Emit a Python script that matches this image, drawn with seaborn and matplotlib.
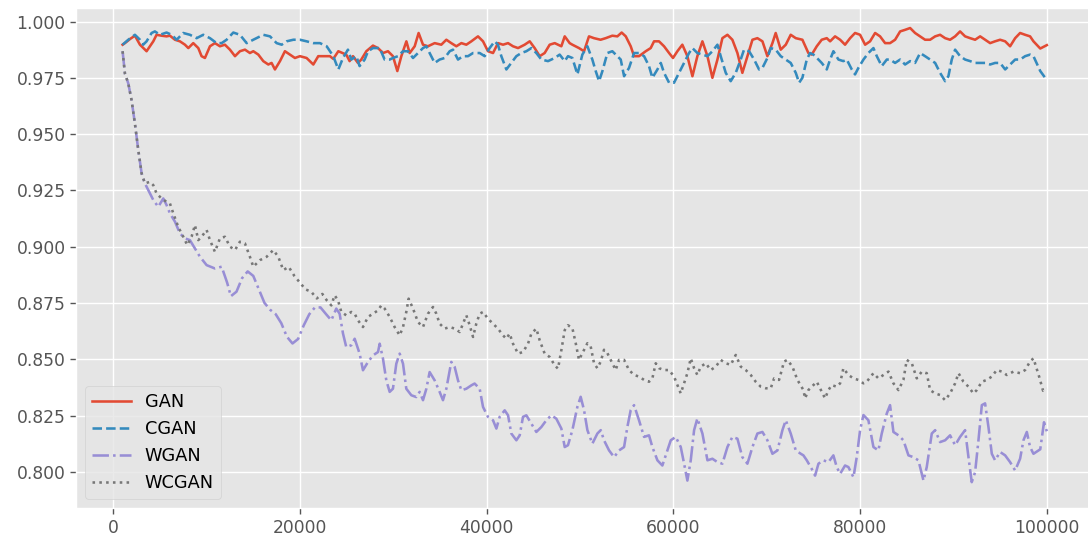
import matplotlib
matplotlib.use('Agg')
import matplotlib.pyplot as plt
from matplotlib.ticker import MultipleLocator
import seaborn as sns

# values (training step -> score)
gan_x = [1000, 1250, 1790, 2320, 2860, 3570, 4290, 4640, 5180, 5710, 6070, 6610, 7140, 7680, 8040,
         8570, 9110, 9460, 9820, 10360, 10890, 11430, 11960, 12500, 13040, 13570, 14110, 14640, 15000,
         15540, 16070, 16610, 16960, 17320, 17860, 18390, 18930, 19460, 20000, 20710, 21430, 21960,
         22500, 23210, 23570, 24110, 24960, 25320, 25680, 26210, 26570, 27110, 27820, 28360, 28900,
         29430, 29960, 30430, 30860, 31400, 31750, 32290, 32710, 33180, 33710, 34430, 35140, 35680,
         36210, 36750, 37290, 37820, 38360, 39070, 39610, 40140, 40680, 41210, 41750, 42290, 42820,
         43360, 44070, 44610, 45140, 45680, 46210, 46750, 47290, 48000, 48360, 48890, 49180, 49890,
         50430, 50960, 51500, 52200, 52750, 53460, 54000, 54460, 54900, 55430, 55790, 56320, 57040,
         57570, 57930, 58460, 59000, 59540, 59960, 60430, 60960, 61500, 62040, 62570, 63110, 63650,
         64180, 64720, 65250, 65790, 66320, 66860, 67390, 67930, 68470, 69000, 69540, 70070, 70610,
         70960, 71500, 72040, 72570, 73110, 73820, 74460, 74820, 75360, 75890, 76430, 76790, 77320,
         77860, 78390, 78930, 79460, 80000, 80540, 81070, 81610, 82140, 82680, 83210, 83750, 84290,
         84820, 85360, 85890, 86430, 86960, 87500, 88040, 88570, 89110, 89640, 90180, 90710, 91250,
         91790, 92320, 92860, 93390, 93930, 94460, 95000, 95540, 96070, 96610, 97140, 97680, 98210,
         98570, 99300, 100000]
gan_y = [0.9897, 0.9904, 0.9922, 0.9937, 0.9897, 0.9868, 0.9912, 0.9941, 0.9937, 0.9934, 0.9937,
         0.9919, 0.9912, 0.9897, 0.9882, 0.9904, 0.9882, 0.9846, 0.9838, 0.9890, 0.9904, 0.9890,
         0.9897, 0.9875, 0.9846, 0.9868, 0.9875, 0.9860, 0.9868, 0.9853, 0.9824, 0.9809, 0.9816,
         0.9787, 0.9824, 0.9868, 0.9853, 0.9838, 0.9846, 0.9838, 0.9809, 0.9846, 0.9846, 0.9846,
         0.9834, 0.9868, 0.9853, 0.9824, 0.9846, 0.9816, 0.9831, 0.9868, 0.9893, 0.9882, 0.9860,
         0.9868, 0.9846, 0.9780, 0.9846, 0.9912, 0.9860, 0.9890, 0.9949, 0.9897, 0.9890, 0.9904,
         0.9897, 0.9919, 0.9904, 0.9890, 0.9904, 0.9897, 0.9912, 0.9934, 0.9912, 0.9868, 0.9860,
         0.9904, 0.9897, 0.9904, 0.9890, 0.9882, 0.9897, 0.9912, 0.9882, 0.9846, 0.9860, 0.9897,
         0.9904, 0.9890, 0.9934, 0.9904, 0.9897, 0.9882, 0.9868, 0.9934, 0.9926, 0.9919, 0.9926,
         0.9937, 0.9934, 0.9951, 0.9934, 0.9890, 0.9846, 0.9846, 0.9868, 0.9882, 0.9912, 0.9912,
         0.9890, 0.9860, 0.9838, 0.9868, 0.9897, 0.9846, 0.9757, 0.9846, 0.9912, 0.9846, 0.9750,
         0.9831, 0.9926, 0.9941, 0.9919, 0.9860, 0.9772, 0.9846, 0.9919, 0.9926, 0.9912, 0.9846,
         0.9904, 0.9949, 0.9875, 0.9897, 0.9941, 0.9926, 0.9919, 0.9860, 0.9853, 0.9890, 0.9919,
         0.9926, 0.9912, 0.9934, 0.9919, 0.9897, 0.9926, 0.9949, 0.9941, 0.9897, 0.9912, 0.9949,
         0.9934, 0.9904, 0.9904, 0.9919, 0.9956, 0.9963, 0.9971, 0.9949, 0.9934, 0.9919, 0.9919,
         0.9934, 0.9941, 0.9926, 0.9919, 0.9934, 0.9956, 0.9934, 0.9926, 0.9919, 0.9934, 0.9919,
         0.9904, 0.9912, 0.9919, 0.9912, 0.9890, 0.9926, 0.9949, 0.9941, 0.9934, 0.9912, 0.9880,
         0.9895]

cgan_x = [1000, 1610, 2320, 2860, 3210, 3570, 4110, 4460, 5000, 5710, 6250, 6790, 7500, 8210, 8930,
          9640, 10360, 11070, 11610, 12140, 12860, 13570, 14290, 15000, 16070, 16790, 17500, 18040,
          18570, 19290, 20000, 20710, 21430, 22140, 22860, 23570, 24110, 24610, 25140, 25500, 26040,
          26390, 26930, 27290, 27820, 28540, 29070, 29610, 29960, 30500, 31040, 31570, 32110, 32640,
          33180, 33540, 33890, 34430, 34960, 35500, 36040, 36390, 36930, 37460, 38000, 38540, 39250,
          39790, 40320, 40860, 41210, 41570, 42110, 42640, 43180, 43710, 44250, 44790, 45320, 45860,
          46570, 47290, 47820, 48360, 48710, 49180, 49720, 50250, 50790, 51320, 51680, 52040, 52400,
          52930, 53460, 54000, 54360, 54720, 55250, 55790, 56320, 56860, 57390, 57750, 58290, 58650,
          59000, 59540, 60070, 60610, 61140, 61680, 62040, 62570, 63110, 63650, 64180, 64720, 65070,
          65610, 66140, 66680, 67210, 67570, 68110, 68650, 69180, 69540, 70070, 70430, 70960, 71500,
          72040, 72570, 73110, 73470, 73820, 74290, 74640, 75000, 75540, 75890, 76430, 76790, 77140,
          77680, 78210, 78570, 79110, 79460, 79820, 80360, 80890, 81430, 81790, 82320, 82860, 83210,
          83750, 84290, 84820, 85360, 85890, 86430, 86960, 87500, 88040, 88570, 89110, 89460, 89820,
          90180, 90710, 91250, 91790, 92320, 92860, 93390, 93930, 94460, 95000, 95540, 96070, 96610,
          97140, 97680, 98210, 98570, 99300, 100000]
cgan_y = [0.9897, 0.9919, 0.9941, 0.9919, 0.9897, 0.9912, 0.9949, 0.9956, 0.9941, 0.9951, 0.9941,
          0.9919, 0.9949, 0.9941, 0.9926, 0.9941, 0.9926, 0.9904, 0.9904, 0.9919, 0.9951, 0.9941,
          0.9904, 0.9919, 0.9941, 0.9934, 0.9904, 0.9897, 0.9912, 0.9919, 0.9919, 0.9912, 0.9904,
          0.9904, 0.9890, 0.9846, 0.9787, 0.9838, 0.9875, 0.9831, 0.9846, 0.9802, 0.9831, 0.9868,
          0.9882, 0.9882, 0.9831, 0.9831, 0.9838, 0.9846, 0.9868, 0.9868, 0.9838, 0.9860, 0.9882,
          0.9890, 0.9860, 0.9816, 0.9831, 0.9838, 0.9868, 0.9875, 0.9831, 0.9846, 0.9846, 0.9860,
          0.9860, 0.9846, 0.9882, 0.9912, 0.9897, 0.9846, 0.9787, 0.9816, 0.9846, 0.9860, 0.9868,
          0.9882, 0.9860, 0.9831, 0.9824, 0.9838, 0.9853, 0.9824, 0.9846, 0.9838, 0.9765, 0.9853,
          0.9890, 0.9831, 0.9780, 0.9735, 0.9780, 0.9860, 0.9868, 0.9846, 0.9831, 0.9757, 0.9794,
          0.9860, 0.9860, 0.9846, 0.9802, 0.9750, 0.9787, 0.9816, 0.9772, 0.9728, 0.9728, 0.9772,
          0.9816, 0.9860, 0.9882, 0.9860, 0.9853, 0.9846, 0.9868, 0.9897, 0.9846, 0.9772, 0.9735,
          0.9772, 0.9831, 0.9875, 0.9868, 0.9831, 0.9787, 0.9794, 0.9838, 0.9882, 0.9875, 0.9846,
          0.9831, 0.9816, 0.9772, 0.9728, 0.9750, 0.9831, 0.9860, 0.9853, 0.9831, 0.9816, 0.9787,
          0.9831, 0.9868, 0.9831, 0.9824, 0.9831, 0.9787, 0.9765, 0.9794, 0.9831, 0.9860, 0.9882,
          0.9846, 0.9802, 0.9831, 0.9831, 0.9816, 0.9831, 0.9809, 0.9824, 0.9816, 0.9860, 0.9846,
          0.9831, 0.9816, 0.9772, 0.9735, 0.9757, 0.9831, 0.9875, 0.9846, 0.9831, 0.9824, 0.9816,
          0.9816, 0.9816, 0.9809, 0.9816, 0.9816, 0.9787, 0.9809, 0.9831, 0.9831, 0.9846, 0.9853,
          0.9846, 0.9780, 0.9740]

wgan_x = [1000, 1250, 1610, 1960, 2320, 2680, 3040, 3390, 3930, 4290, 4820, 5360, 5710, 6070, 6610,
          7140, 7680, 8210, 8750, 9290, 10000, 10890, 11610, 12200, 12600, 13200, 13800, 14400,
          15000, 15600, 16200, 16800, 17400, 18000, 18600, 19200, 19800, 20400, 21000, 21600, 22200,
          22800, 23360, 23890, 24250, 24610, 24960, 25500, 25860, 26390, 26750, 27290, 27820, 28360,
          28540, 28890, 29250, 29610, 29960, 30320, 30680, 31040, 31390, 31930, 32460, 32820, 33180,
          33540, 33890, 34430, 34960, 35320, 35680, 36210, 36570, 36930, 37290, 37820, 38360, 38710,
          39250, 39610, 40140, 40680, 41040, 41390, 41930, 42290, 42640, 43180, 43540, 43890, 44250,
          44790, 45320, 45860, 46390, 46930, 47460, 48000, 48360, 48710, 49180, 49720, 50070, 50430,
          50790, 51320, 51860, 52220, 52570, 53110, 53650, 54180, 54720, 55070, 55430, 55790, 56320,
          56860, 57390, 57750, 58290, 58820, 59360, 59720, 60250, 60790, 61150, 61500, 61860, 62220,
          62570, 63110, 63650, 64180, 64720, 65250, 65790, 66320, 66860, 67390, 67930, 68470, 69000,
          69540, 70070, 70610, 71150, 71680, 72040, 72570, 73110, 73650, 73930, 74290, 74820, 75180,
          75540, 76070, 76610, 77140, 77500, 77860, 78390, 78750, 79290, 79640, 80000, 80360, 80890,
          81430, 81960, 82320, 82860, 83210, 83570, 84110, 84640, 85180, 85710, 86250, 86790, 87140,
          87680, 88040, 88570, 89110, 89640, 90180, 90710, 91250, 91610, 91960, 92320, 92680, 93040,
          93390, 93750, 94110, 94460, 95000, 95540, 96070, 96610, 97140, 97500, 97860, 98210, 98570,
          99300, 99700, 100000]
wgan_y = [0.9868, 0.9769, 0.9725, 0.9651, 0.9547, 0.9429, 0.9325, 0.9281, 0.9236, 0.9207, 0.9177,
          0.9214, 0.9185, 0.9148, 0.9111, 0.9059, 0.9037, 0.9029, 0.8992, 0.8955, 0.8918, 0.8903,
          0.8911, 0.8840, 0.8780, 0.8800, 0.8860, 0.8890, 0.8870, 0.8810, 0.8750, 0.8720, 0.8700,
          0.8660, 0.8600, 0.8570, 0.8590, 0.8650, 0.8700, 0.8730, 0.8730, 0.8700, 0.8673, 0.8725,
          0.8702, 0.8614, 0.8554, 0.8562, 0.8591, 0.8525, 0.8451, 0.8488, 0.8517, 0.8532, 0.8569,
          0.8503, 0.8406, 0.8355, 0.8369, 0.8480, 0.8525, 0.8480, 0.8369, 0.8340, 0.8332, 0.8355,
          0.8318, 0.8369, 0.8443, 0.8406, 0.8355, 0.8318, 0.8369, 0.8488, 0.8466, 0.8406, 0.8362,
          0.8369, 0.8384, 0.8392, 0.8369, 0.8288, 0.8244, 0.8229, 0.8192, 0.8244, 0.8273, 0.8251,
          0.8170, 0.8140, 0.8162, 0.8244, 0.8251, 0.8214, 0.8177, 0.8199, 0.8229, 0.8251, 0.8236,
          0.8192, 0.8110, 0.8118, 0.8185, 0.8289, 0.8333, 0.8274, 0.8185, 0.8125, 0.8170, 0.8185,
          0.8140, 0.8095, 0.8065, 0.8095, 0.8110, 0.8199, 0.8274, 0.8296, 0.8229, 0.8155, 0.8162,
          0.8110, 0.8051, 0.8028, 0.8095, 0.8140, 0.8155, 0.8110, 0.8036, 0.7961, 0.8051, 0.8185,
          0.8237, 0.8170, 0.8051, 0.8058, 0.8043, 0.8036, 0.8110, 0.8155, 0.8147, 0.8065, 0.8036,
          0.8110, 0.8170, 0.8177, 0.8140, 0.8080, 0.8095, 0.8185, 0.8229, 0.8170, 0.8095, 0.8080,
          0.8073, 0.8051, 0.8013, 0.7983, 0.8036, 0.8051, 0.8043, 0.8073, 0.8021, 0.7991, 0.8028,
          0.8021, 0.7976, 0.8065, 0.8185, 0.8252, 0.8229, 0.8110, 0.8095, 0.8170, 0.8259, 0.8296,
          0.8177, 0.8162, 0.8140, 0.8073, 0.8065, 0.8051, 0.7961, 0.8021, 0.8170, 0.8185, 0.8132,
          0.8140, 0.8162, 0.8118, 0.8155, 0.8185, 0.8065, 0.7954, 0.7998, 0.8140, 0.8296, 0.8304,
          0.8199, 0.8080, 0.8051, 0.8088, 0.8073, 0.8043, 0.8006, 0.8058, 0.8140, 0.8177, 0.8110,
          0.8080, 0.8100, 0.8220, 0.8180]

wcgan_x = [1000, 1250, 1610, 1960, 2320, 2680, 3040, 3390, 3930, 4290, 4640, 5180, 5710, 6070, 6430,
           6960, 7500, 7930, 8390, 8750, 9110, 9460, 10000, 10360, 10890, 11430, 11960, 12500, 13040,
           13570, 14110, 14640, 15000, 15710, 16430, 17140, 17680, 18210, 18800, 19400, 20000, 20600,
           21200, 21800, 22400, 22900, 23360, 23710, 24070, 24430, 24960, 25500, 25860, 26210, 26750,
           27290, 27820, 28360, 28710, 29070, 29610, 30140, 30680, 31040, 31390, 31640, 32110, 32640,
           33180, 33710, 34250, 34610, 34960, 35500, 36040, 36570, 37110, 37460, 37820, 38180, 38540,
           38890, 39250, 39610, 40140, 40680, 41210, 41750, 42110, 42460, 42820, 43360, 43890, 44430,
           44790, 45320, 45680, 46210, 46750, 47290, 47640, 48000, 48360, 48710, 49180, 49540, 49890,
           50250, 50790, 51140, 51500, 51860, 52220, 52570, 52930, 53460, 53820, 54180, 54720, 55250,
           55790, 56320, 56860, 57390, 57750, 58110, 58470, 59000, 59540, 60070, 60430, 60790, 61150,
           61500, 61860, 62220, 62570, 62930, 63470, 64000, 64540, 65070, 65610, 66150, 66680, 67220,
           67750, 68290, 68820, 69360, 69900, 70430, 70790, 71320, 71860, 72220, 72750, 73290, 73930,
           74110, 74460, 75000, 75360, 75710, 76250, 76610, 76960, 77500, 77860, 78210, 78750, 79290,
           79820, 80360, 80710, 81430, 81960, 82500, 83040, 83570, 84110, 84640, 85000, 85540, 86070,
           86610, 87140, 87500, 88040, 88570, 89110, 89640, 90180, 90540, 91070, 91610, 92140, 92500,
           93040, 93570, 94110, 94640, 95180, 95710, 96430, 97140, 97680, 98210, 98570, 99200, 99600,
           100000]
wcgan_y = [0.9868, 0.9769, 0.9725, 0.9651, 0.9547, 0.9429, 0.9325, 0.9281, 0.9288, 0.9273, 0.9236,
           0.9214, 0.9199, 0.9192, 0.9148, 0.9088, 0.9044, 0.9007, 0.9044, 0.9096, 0.9029, 0.9044,
           0.9074, 0.9029, 0.8977, 0.9037, 0.9044, 0.9000, 0.8985, 0.9022, 0.9014, 0.8955, 0.8911,
           0.8940, 0.8955, 0.8985, 0.8955, 0.8896, 0.8910, 0.8870, 0.8840, 0.8810, 0.8800, 0.8770,
           0.8790, 0.8760, 0.8739, 0.8784, 0.8762, 0.8710, 0.8695, 0.8710, 0.8702, 0.8673, 0.8643,
           0.8688, 0.8702, 0.8717, 0.8739, 0.8725, 0.8688, 0.8643, 0.8606, 0.8643, 0.8710, 0.8769,
           0.8725, 0.8665, 0.8643, 0.8702, 0.8732, 0.8702, 0.8658, 0.8636, 0.8643, 0.8636, 0.8621,
           0.8658, 0.8695, 0.8651, 0.8599, 0.8658, 0.8702, 0.8710, 0.8680, 0.8658, 0.8636, 0.8606,
           0.8591, 0.8614, 0.8569, 0.8525, 0.8532, 0.8569, 0.8614, 0.8636, 0.8584, 0.8525, 0.8510,
           0.8473, 0.8458, 0.8540, 0.8629, 0.8651, 0.8638, 0.8571, 0.8497, 0.8527, 0.8571, 0.8557,
           0.8482, 0.8460, 0.8490, 0.8542, 0.8527, 0.8482, 0.8452, 0.8497, 0.8497, 0.8452, 0.8430,
           0.8423, 0.8408, 0.8400, 0.8415, 0.8482, 0.8460, 0.8452, 0.8452, 0.8423, 0.8385, 0.8348,
           0.8393, 0.8438, 0.8504, 0.8460, 0.8430, 0.8467, 0.8482, 0.8452, 0.8467, 0.8497, 0.8482,
           0.8475, 0.8519, 0.8467, 0.8452, 0.8430, 0.8400, 0.8378, 0.8371, 0.8371, 0.8415, 0.8408,
           0.8490, 0.8497, 0.8467, 0.8408, 0.8363, 0.8326, 0.8363, 0.8385, 0.8400, 0.8371, 0.8326,
           0.8363, 0.8385, 0.8378, 0.8393, 0.8460, 0.8430, 0.8415, 0.8408, 0.8393, 0.8400, 0.8438,
           0.8415, 0.8430, 0.8445, 0.8393, 0.8363, 0.8408, 0.8497, 0.8482, 0.8415, 0.8445, 0.8438,
           0.8363, 0.8348, 0.8341, 0.8318, 0.8348, 0.8393, 0.8438, 0.8400, 0.8378, 0.8348, 0.8363,
           0.8400, 0.8408, 0.8423, 0.8452, 0.8445, 0.8430, 0.8445, 0.8438, 0.8452, 0.8490, 0.8504,
           0.8420, 0.8360, 0.8370]

labels = ['GAN', 'CGAN', 'WGAN', 'WCGAN']
colors = ['#E24A33', '#348ABD', '#988ED5', '#777777']
styles = ['-', '--', '-.', ':']

plt.style.use('ggplot')
plt.rcParams['font.family'] = ['DejaVu Sans']

fig = plt.figure(figsize=(10.88, 5.44), dpi=100)
ax = fig.add_axes([0.0702, 0.0665, 0.9344, 0.9188])

series = [(gan_x, gan_y), (cgan_x, cgan_y), (wgan_x, wgan_y), (wcgan_x, wcgan_y)]
for (xs, ys), lab, col, ls in zip(series, labels, colors, styles):
    sns.lineplot(x=xs, y=ys, ax=ax, label=lab, color=col, linestyle=ls, linewidth=1.85)

ax.set_xlim(-3950, 104950)
ax.set_ylim(0.784, 1.006)
ax.yaxis.set_major_locator(MultipleLocator(0.025))
ax.grid(True, color='white', linewidth=1.0)
ax.tick_params(labelsize=12.3, colors='#555555', length=4.3, width=1.0)
ax.legend(loc='lower left', fontsize=12.8, handlelength=2.15)

fig.savefig('out.png', dpi=100)
